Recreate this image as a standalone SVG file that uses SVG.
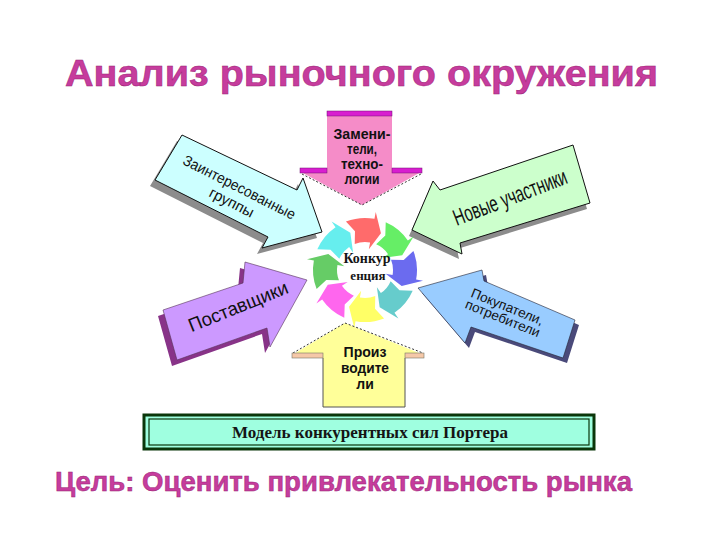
<svg xmlns="http://www.w3.org/2000/svg" width="720" height="540" viewBox="0 0 720 540">
<style>
.lbl{font-family:"Liberation Sans",Arial,sans-serif;fill:#111;}
.b{font-weight:bold;}
.hd{font-family:"Liberation Sans",Arial,sans-serif;font-weight:bold;fill:#c63c9d;stroke:#9a2274;stroke-width:0.5;}
.ser{font-family:"Liberation Serif","Times New Roman",serif;font-weight:bold;fill:#151515;}
.dash{fill:none;stroke:#333;stroke-width:1;stroke-dasharray:2,2;}
.edge{stroke:#111;stroke-width:1;stroke-linejoin:round;}
</style>
<defs>
<path id="seg" d="M-19.06,-48.38 A52,52 0 0 1 9.47,-51.13 L10.75,-58.01 L15.95,-36.68 L3.83,-20.65 L5.10,-27.53 A28,28 0 0 0 -10.26,-26.05 L-10.02,-38.72 Z"/>
</defs>
<rect width="720" height="540" fill="#fff"/>

<g id="title">
<text class="hd" x="65" y="86" font-size="37" textLength="593" lengthAdjust="spacingAndGlyphs">Анализ рыночного окружения</text>
</g>

<g id="node-zainteresovannye">
<polygon points="177,141 292,196 298,184 317,238 257,254 263,243 150,186" fill="#8c8c8c"/>
<polygon class="edge" points="182,135 297,190 303,178 322,232 262,248 268,237 155,180" fill="#ccffff"/>
<g transform="translate(238,190) rotate(27)">
<text class="lbl" x="0" y="2" font-size="15" text-anchor="middle" textLength="124" lengthAdjust="spacingAndGlyphs">Заинтересованные</text>
<text class="lbl" x="0" y="19" font-size="15" text-anchor="middle">группы</text>
</g>
</g>

<g id="node-zameniteli">
<polygon points="327,114 392,114 392,172 421,172 362,205 301,172 327,172" fill="#f58cc8"/>
<rect x="327" y="111" width="65" height="5" fill="#d81ed0" stroke="#701070" stroke-width="0.5"/>
<rect x="300" y="168" width="27" height="5" fill="#d81ed0" stroke="#701070" stroke-width="0.5"/>
<rect x="392" y="168" width="30" height="5" fill="#d81ed0" stroke="#701070" stroke-width="0.5"/>
<polyline class="dash" points="302,174 362,205 421,174"/>
<text class="lbl b" x="362" y="139" font-size="14" text-anchor="middle" textLength="57" lengthAdjust="spacingAndGlyphs">Замени-</text>
<text class="lbl b" x="362" y="154" font-size="14" text-anchor="middle" textLength="30" lengthAdjust="spacingAndGlyphs">тели,</text>
<text class="lbl b" x="362" y="169" font-size="14" text-anchor="middle" textLength="42" lengthAdjust="spacingAndGlyphs">техно-</text>
<text class="lbl b" x="362" y="184" font-size="14" text-anchor="middle" textLength="35" lengthAdjust="spacingAndGlyphs">логии</text>
</g>

<g id="node-novye-uchastniki">
<polygon points="409,236 430,188 437,196 570,151 587,209 457,249 459,259" fill="#8c8c8c"/>
<polygon class="edge" points="412,230 433,181 440,190 573,145 590,203 460,243 462,254" fill="#ccffcc"/>
<g transform="translate(510,197) rotate(-21)">
<text class="lbl" x="0" y="8" font-size="23" text-anchor="middle" textLength="120" lengthAdjust="spacingAndGlyphs">Новые участники</text>
</g>
</g>

<g id="node-konkurentsiya">
<use href="#seg" transform="translate(365,270) rotate(0)" fill="#ff6b6b"/>
<use href="#seg" transform="translate(365,270) rotate(45)" fill="#66ee66"/>
<use href="#seg" transform="translate(365,270) rotate(90)" fill="#6b6bef"/>
<use href="#seg" transform="translate(365,270) rotate(135)" fill="#66cccc"/>
<use href="#seg" transform="translate(365,270) rotate(180)" fill="#ffff66"/>
<use href="#seg" transform="translate(365,270) rotate(225)" fill="#ff66ee"/>
<use href="#seg" transform="translate(365,270) rotate(270)" fill="#66cc66"/>
<use href="#seg" transform="translate(365,270) rotate(315)" fill="#66eeee"/>
<text class="ser" x="367" y="263" font-size="14" text-anchor="middle">Конкур</text>
<text class="ser" x="368" y="280" font-size="13" text-anchor="middle">енция</text>
</g>

<g id="node-postavshchiki">
<polygon points="158,316 238,289 240,268 302,286 265,353 262,334 172,366" fill="#883388"/>
<polygon points="163,310 243,283 245,262 307,280 270,347 267,328 177,360" fill="#cc99ff" stroke="#553355" stroke-width="0.6"/>
<g transform="translate(238,306) rotate(-22)">
<text class="lbl" x="0" y="7" font-size="19" text-anchor="middle" textLength="106" lengthAdjust="spacingAndGlyphs">Поставщики</text>
</g>
</g>

<g id="node-pokupateli">
<polygon points="422,293 486,275 488,286 579,325 567,363 475,332 469,348" fill="#4a4a7a"/>
<polygon points="418,288 482,270 484,281 575,320 563,358 471,327 465,343" fill="#99ccff" stroke="#223" stroke-width="0.6"/>
<g transform="translate(506,310) rotate(22)">
<text class="lbl" x="0" y="1" font-size="13.5" text-anchor="middle">Покупатели,</text>
<text class="lbl" x="0" y="13.5" font-size="13.5" text-anchor="middle">потребители</text>
</g>
</g>

<g id="node-proizvoditeli">
<polygon points="292,355 345,323 424,355 405,355 405,407 323,407 323,355" fill="#ffff99"/>
<polyline points="323,358 323,407 405,407 405,358" fill="none" stroke="#555" stroke-width="1"/>
<polyline class="dash" points="293,353 345,323 423,353"/>
<rect x="292" y="353" width="31" height="5" fill="#f5c8a8" stroke="#776" stroke-width="0.6"/>
<rect x="405" y="353" width="19" height="5" fill="#f5c8a8" stroke="#776" stroke-width="0.6"/>
<text class="lbl b" x="365" y="357" font-size="14" text-anchor="middle" textLength="43" lengthAdjust="spacingAndGlyphs">Произ</text>
<text class="lbl b" x="365" y="373" font-size="14" text-anchor="middle" textLength="48" lengthAdjust="spacingAndGlyphs">водите</text>
<text class="lbl b" x="365" y="389" font-size="14" text-anchor="middle">ли</text>
</g>

<g id="banner">
<rect x="144" y="415" width="450" height="34" fill="#9fffe0" stroke="#0a360a" stroke-width="3"/>
<rect x="149" y="419" width="440" height="26" fill="none" stroke="#0a360a" stroke-width="1.2"/>
<text class="ser" x="370" y="438" font-size="16" text-anchor="middle" textLength="276" lengthAdjust="spacingAndGlyphs">Модель конкурентных сил Портера</text>
</g>

<g id="goal">
<text class="hd" x="55" y="491" font-size="27" textLength="577" lengthAdjust="spacingAndGlyphs">Цель: Оценить привлекательность рынка</text>
</g>
</svg>
